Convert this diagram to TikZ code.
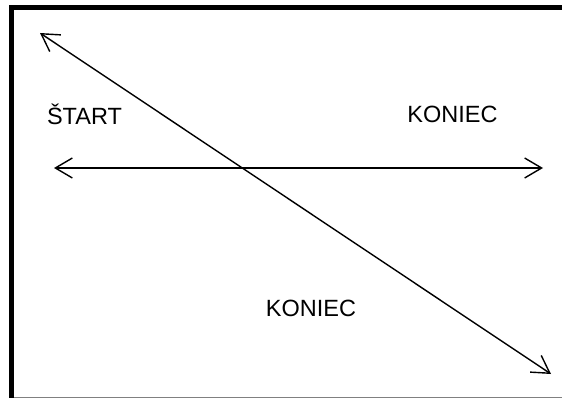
\documentclass[tikz,border=0pt]{standalone}
\usepackage{fontspec}
\setmainfont{Liberation Sans}
\usetikzlibrary{arrows.meta}
\begin{document}
\begin{tikzpicture}[x=1pt,y=-1pt,
  label/.style={font=\fontsize{23.5}{28}\selectfont, inner sep=0pt},
  conn/.style={line width=1.4pt, {Straight Barb[length=17pt,width=20pt,line width=1.4pt]}-{Straight Barb[length=17pt,width=20pt,line width=1.4pt]}},
  frame/.style={line width=5pt, line cap=butt}]
\useasboundingbox (0,0) rectangle (562,398);
% frame
\draw[frame] (11.5,398) -- (11.5,7.5) -- (562,7.5);
\draw[gray, line width=1pt] (14,397) -- (562,397);
% labels
\node[label] (start) at (84.5,114) {ŠTART};
\node[label] (end1) at (452.5,114) {KONIEC};
\node[label] (end2) at (311,308) {KONIEC};
% arrow endpoints
\coordinate (dA) at (40,33);
\coordinate (dB) at (551,374);
\coordinate (hA) at (54,168);
\coordinate (hB) at (543,168);
\draw[conn] (dA) -- (dB);
\draw[conn] (hA) -- (hB);
\end{tikzpicture}
\end{document}
